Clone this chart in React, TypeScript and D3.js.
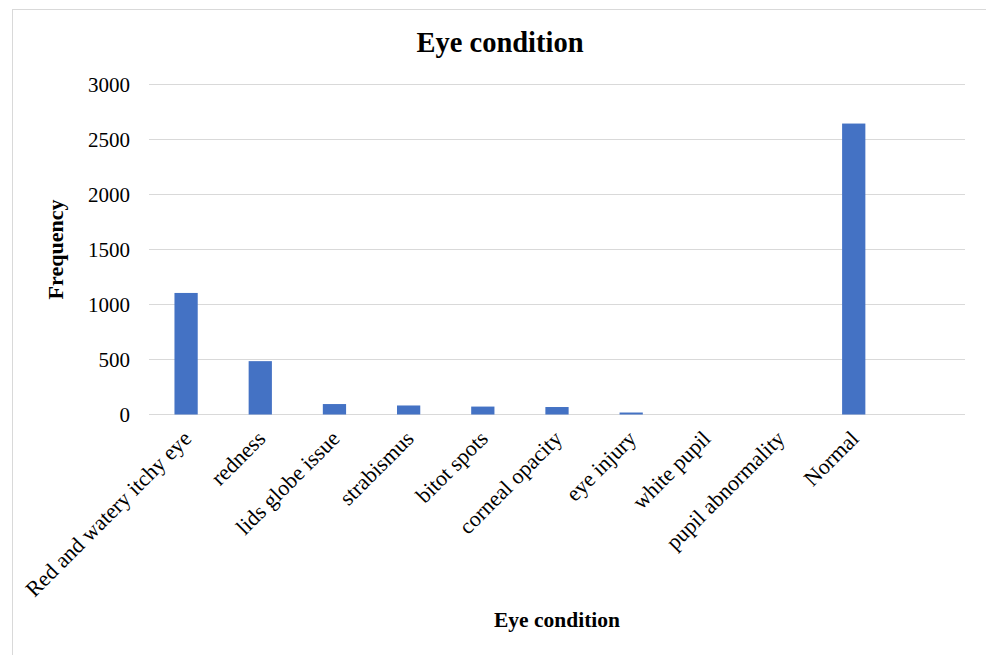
import React, { useEffect, useRef } from 'react';
import * as d3 from 'd3';

// categories (last slot is empty in the source sheet)
const categories: string[] = [
  'Red and watery itchy eye',
  'redness',
  'lids globe issue',
  'strabismus',
  'bitot spots',
  'corneal opacity',
  'eye injury',
  'white pupil',
  'pupil abnormality',
  'Normal',
  '',
];

const frequency: number[] = [1105, 485, 95, 82, 72, 68, 18, 0, 0, 2645, 0];

const yTicks: number[] = [0, 500, 1000, 1500, 2000, 2500, 3000];

const EyeConditionChart: React.FC = () => {
  const svgRef = useRef<SVGSVGElement | null>(null);

  useEffect(() => {
    if (!svgRef.current) return;

    const width = 986;
    const height = 655;
    const marginTop = 84.5;
    const marginLeft = 149;
    const plotRight = 965;
    const plotBottom = 414.5;
    const font = '"Liberation Serif", "Times New Roman", serif';

    const svg = d3.select(svgRef.current)
      .attr('width', width)
      .attr('height', height)
      .attr('viewBox', `0 0 ${width} ${height}`)
      .style('font-family', font);

    svg.selectAll('*').remove();

    svg.append('rect')
      .attr('width', width)
      .attr('height', height)
      .attr('fill', '#fff');

    // chart frame
    svg.append('rect')
      .attr('x', 12.5)
      .attr('y', 9.5)
      .attr('width', 976)
      .attr('height', 660)
      .attr('fill', 'none')
      .attr('stroke', '#d9d9d9')
      .attr('stroke-width', 1);

    const x = d3.scaleBand<string>()
      .domain(categories.map((c, i) => `${i}`))
      .range([marginLeft, plotRight])
      .paddingInner(0)
      .paddingOuter(0);

    const y = d3.scaleLinear()
      .domain([0, 3000])
      .range([plotBottom, marginTop]);

    // gridlines
    svg.append('g')
      .selectAll('line')
      .data(yTicks)
      .join('line')
      .attr('x1', marginLeft)
      .attr('x2', plotRight)
      .attr('y1', d => y(d))
      .attr('y2', d => y(d))
      .attr('stroke', '#d9d9d9')
      .attr('stroke-width', 1.2);

    // y tick labels
    svg.append('g')
      .selectAll('text')
      .data(yTicks)
      .join('text')
      .attr('x', 130)
      .attr('y', d => y(d))
      .attr('dy', '0.35em')
      .attr('text-anchor', 'end')
      .attr('font-size', 21)
      .attr('fill', '#000')
      .text(d => d);

    // bars, gap width ~219%
    const barW = x.bandwidth() / 3.19;
    svg.append('g')
      .selectAll('rect')
      .data(frequency)
      .join('rect')
      .attr('x', (d, i) => (x(`${i}`) as number) + (x.bandwidth() - barW) / 2)
      .attr('y', d => y(d))
      .attr('width', barW)
      .attr('height', d => y(0) - y(d))
      .attr('fill', '#4472c4');

    // category labels, rotated
    svg.append('g')
      .selectAll('text')
      .data(categories)
      .join('text')
      .attr('transform', (d, i) => {
        const cx = (x(`${i}`) as number) + x.bandwidth() / 2;
        return `translate(${cx + 1},${plotBottom + 20}) rotate(-45)`;
      })
      .attr('text-anchor', 'end')
      .attr('dy', '0.35em')
      .attr('font-size', 22)
      .attr('fill', '#000')
      .text(d => d);

    // chart title
    svg.append('text')
      .attr('x', 500)
      .attr('y', 52)
      .attr('text-anchor', 'middle')
      .attr('font-size', 28.5)
      .attr('font-weight', 'bold')
      .text('Eye condition');

    // axis titles
    svg.append('text')
      .attr('x', (marginLeft + plotRight) / 2)
      .attr('y', 627)
      .attr('text-anchor', 'middle')
      .attr('font-size', 21.5)
      .attr('font-weight', 'bold')
      .text('Eye condition');

    svg.append('text')
      .attr('transform', `translate(63,${(marginTop + plotBottom) / 2}) rotate(-90)`)
      .attr('text-anchor', 'middle')
      .attr('font-size', 22)
      .attr('font-weight', 'bold')
      .text('Frequency');
  }, []);

  return (
    <div style={{ position: 'absolute', left: 0, top: 0 }}>
      <svg ref={svgRef} style={{ display: 'block' }}></svg>
    </div>
  );
};

export default function App() {
  return <EyeConditionChart />;
}
